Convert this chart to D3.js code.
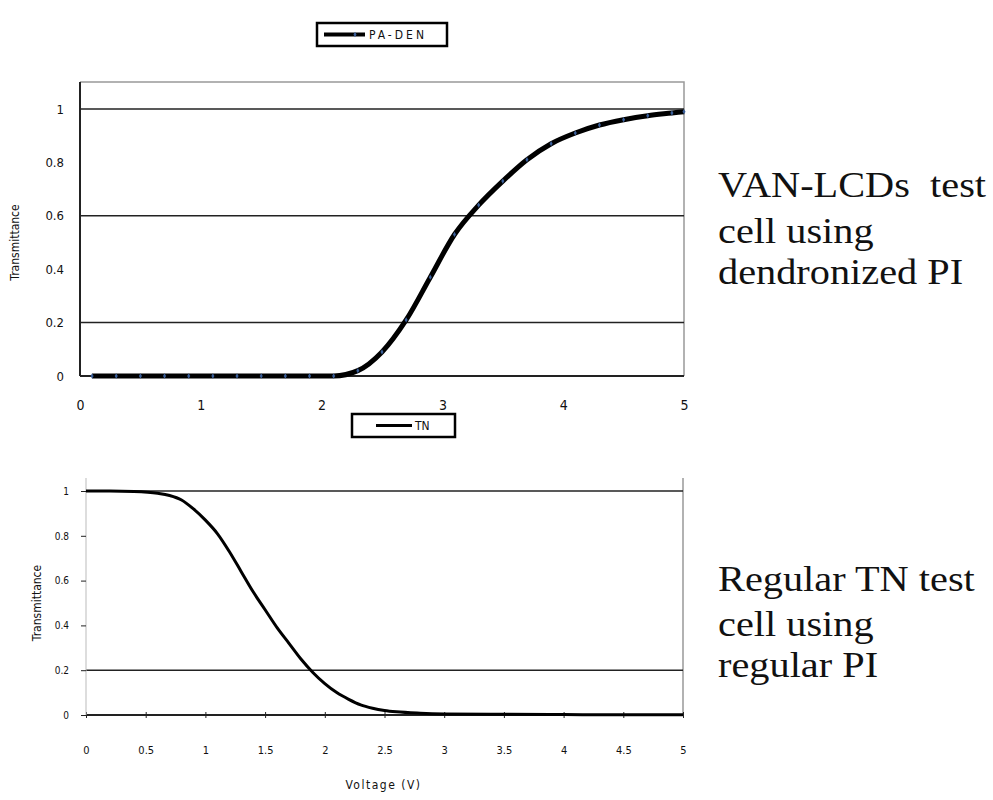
<!DOCTYPE html>
<html>
<head>
<meta charset="utf-8">
<script src="https://cdn.jsdelivr.net/npm/d3@7"></script>
<style>
  html, body { margin: 0; padding: 0; background: #fff; }
  svg { display: block; }
</style>
</head>
<body>
<svg id="chart" width="993" height="800"></svg>
<script>
// Top panel: VAN cell with dendronized PI
const denVoltage = [0.1, 0.3, 0.5, 0.7, 0.9, 1.1, 1.3, 1.5, 1.7, 1.9, 2.1, 2.3, 2.5, 2.7, 2.9, 3.1, 3.3, 3.5, 3.7, 3.9, 4.1, 4.3, 4.5, 4.7, 4.9, 5.0];
const denTrans   = [0, 0, 0, 0, 0, 0, 0, 0, 0, 0, 0, 0.02, 0.09, 0.21, 0.37, 0.53, 0.64, 0.73, 0.81, 0.87, 0.91, 0.94, 0.96, 0.975, 0.985, 0.99];
const topXTicks = [0, 1, 2, 3, 4, 5];
const topYTicks = [0, 0.2, 0.4, 0.6, 0.8, 1];
const topYTickLabels = ["0", "0.2", "0.4", "0.6", "0.8", "1"];
const topGrid = [0.2, 0.6, 1];

// Bottom panel: regular TN cell
const tnVoltage = [0, 0.2, 0.4, 0.6, 0.7, 0.8, 0.9, 1.0, 1.1, 1.2, 1.3, 1.4, 1.5, 1.6, 1.7, 1.8, 1.9, 2.0, 2.1, 2.2, 2.3, 2.4, 2.5, 2.6, 2.8, 3.0, 3.5, 4.0, 4.5, 5.0];
const tnTrans    = [1.0, 1.0, 0.998, 0.99, 0.98, 0.96, 0.92, 0.87, 0.81, 0.73, 0.64, 0.55, 0.47, 0.39, 0.32, 0.25, 0.19, 0.14, 0.10, 0.07, 0.045, 0.03, 0.02, 0.014, 0.008, 0.005, 0.003, 0.002, 0.001, 0.001];
const botXTicks = [0, 0.5, 1, 1.5, 2, 2.5, 3, 3.5, 4, 4.5, 5];
const botYTicks = [0, 0.2, 0.4, 0.6, 0.8, 1];
const botGrid = [0.2, 1];

const svg = d3.select("#chart");
const tickFont = "DejaVu Sans Condensed, DejaVu Sans, sans-serif";

// ---------- top panel ----------
const tx = d3.scaleLinear().domain([0, 5]).range([80, 684]);
const ty = d3.scaleLinear().domain([0, 1]).range([376, 109]);

// plot frame (top and right in grey)
svg.append("path")
  .attr("d", `M${tx(0)},82 H${tx(5)} V${ty(0)}`)
  .attr("fill", "none").attr("stroke", "#999").attr("stroke-width", 1.5);

svg.append("g").selectAll("line").data(topGrid).join("line")
  .attr("x1", tx(0)).attr("x2", tx(5))
  .attr("y1", d => ty(d)).attr("y2", d => ty(d))
  .attr("stroke", "#222").attr("stroke-width", 1.5);

const topXAxis = svg.append("g").attr("transform", `translate(0,${ty(0)})`)
  .call(d3.axisBottom(tx).tickValues(topXTicks).tickSize(0).tickPadding(24).tickFormat(d3.format("d")));
topXAxis.select(".domain").attr("stroke", "#222").attr("stroke-width", 2).attr("d", `M${tx(0)},0H${tx(5)}`);
topXAxis.selectAll("text").attr("font-size", 14).attr("font-family", tickFont).attr("fill", "#111");

const topYAxis = svg.append("g").attr("transform", `translate(${tx(0)},0)`)
  .call(d3.axisLeft(ty).tickValues(topYTicks).tickSize(0).tickPadding(16)
    .tickFormat((d, i) => topYTickLabels[i]));
topYAxis.select(".domain").attr("stroke", "#222").attr("stroke-width", 2).attr("d", `M0,82V${ty(0)}`);
topYAxis.selectAll("text").attr("font-size", 13).attr("font-family", tickFont).attr("fill", "#111");

svg.append("text")
  .attr("transform", `translate(19,${(ty(0) + ty(1)) / 2}) rotate(-90)`)
  .attr("text-anchor", "middle").attr("font-size", 12).attr("font-family", tickFont).attr("fill", "#111")
  .text("Transmittance");

const topLine = d3.line().x((d, i) => tx(denVoltage[i])).y(d => ty(d)).curve(d3.curveMonotoneX);
svg.append("path").datum(denTrans)
  .attr("d", topLine).attr("fill", "none").attr("stroke", "#000").attr("stroke-width", 5);
svg.append("g").selectAll("path").data(denTrans).join("path")
  .attr("transform", (d, i) => `translate(${tx(denVoltage[i])},${ty(d)})`)
  .attr("d", d3.symbol().type(d3.symbolDiamond).size(8))
  .attr("fill", "#3a5f9a");

// legend
const lg1 = svg.append("g").attr("transform", "translate(317,23)");
lg1.append("rect").attr("width", 130).attr("height", 23).attr("fill", "#fff").attr("stroke", "#000").attr("stroke-width", 2.5);
lg1.append("line").attr("x1", 7).attr("x2", 48).attr("y1", 11.5).attr("y2", 11.5).attr("stroke", "#000").attr("stroke-width", 4);
lg1.append("path").attr("transform", "translate(38,11.5)").attr("d", d3.symbol().type(d3.symbolDiamond).size(8)).attr("fill", "#3a5f9a");
lg1.append("text").attr("x", 52).attr("y", 16).attr("font-size", 12).attr("letter-spacing", 3)
  .attr("font-family", tickFont).attr("fill", "#111").text("PA-DEN");

// ---------- bottom panel ----------
const bx = d3.scaleLinear().domain([0, 5]).range([86, 683]);
const by = d3.scaleLinear().domain([0, 1]).range([715, 491]);

svg.append("line").attr("x1", bx(5)).attr("x2", bx(5)).attr("y1", 478).attr("y2", by(0))
  .attr("stroke", "#999").attr("stroke-width", 1.5);

svg.append("g").selectAll("line").data(botGrid).join("line")
  .attr("x1", bx(0)).attr("x2", bx(5))
  .attr("y1", d => by(d)).attr("y2", d => by(d))
  .attr("stroke", "#222").attr("stroke-width", 1.5);

const botXAxis = svg.append("g").attr("transform", `translate(0,${by(0)})`)
  .call(d3.axisBottom(bx).tickValues(botXTicks).tickSize(3).tickPadding(28).tickFormat(d3.format("")));
botXAxis.select(".domain").attr("stroke", "#222").attr("stroke-width", 2).attr("d", `M${bx(0)},0H${bx(5)}`);
botXAxis.selectAll(".tick line").attr("stroke", "#222").attr("y1", -3);
botXAxis.selectAll("text").attr("font-size", 11).attr("font-family", tickFont).attr("fill", "#111");

const botYAxis = svg.append("g").attr("transform", `translate(${bx(0)},0)`)
  .call(d3.axisLeft(by).tickValues(botYTicks).tickSize(5).tickPadding(12).tickFormat(d => d === 0 ? "0" : d === 1 ? "1" : d3.format(".1f")(d)));
botYAxis.select(".domain").attr("stroke", "#bbb").attr("stroke-width", 1).attr("d", `M0,478V${by(0)}`);
botYAxis.selectAll(".tick line").attr("stroke", "#222");
botYAxis.selectAll("text").attr("font-size", 10).attr("font-family", tickFont).attr("fill", "#111");

svg.append("text")
  .attr("transform", `translate(41,${(by(0) + by(1)) / 2}) rotate(-90)`)
  .attr("text-anchor", "middle").attr("font-size", 12).attr("font-family", tickFont).attr("fill", "#111")
  .text("Transmittance");

svg.append("text")
  .attr("x", (bx(0) + bx(5)) / 2 - 1).attr("y", 789)
  .attr("text-anchor", "middle").attr("font-size", 12).attr("letter-spacing", 1.5)
  .attr("font-family", tickFont).attr("fill", "#111")
  .text("Voltage (V)");

const botLine = d3.line().x((d, i) => bx(tnVoltage[i])).y(d => by(d)).curve(d3.curveMonotoneX);
svg.append("path").datum(tnTrans)
  .attr("d", botLine).attr("fill", "none").attr("stroke", "#000").attr("stroke-width", 3);

const lg2 = svg.append("g").attr("transform", "translate(352,414)");
lg2.append("rect").attr("width", 103).attr("height", 23).attr("fill", "#fff").attr("stroke", "#000").attr("stroke-width", 2.5);
lg2.append("line").attr("x1", 24).attr("x2", 60).attr("y1", 11.5).attr("y2", 11.5).attr("stroke", "#000").attr("stroke-width", 3);
lg2.append("text").attr("x", 63).attr("y", 16).attr("font-size", 12).attr("font-family", tickFont).attr("fill", "#111").text("TN");

// ---------- captions ----------
const serif = "Liberation Serif, Times New Roman, serif";
const cap1 = ["VAN-LCDs  test", "cell using", "dendronized PI"];
const cap2 = ["Regular TN test", "cell using", "regular PI"];
const cap1Y = [197, 243, 284];
const cap2Y = [591, 636, 677];
svg.append("g").attr("transform", "translate(718,0) scale(1.12,1)")
  .selectAll("text").data(cap1).join("text")
  .attr("x", 0).attr("y", (d, i) => cap1Y[i])
  .attr("font-size", 36).attr("font-family", serif).attr("fill", "#111")
  .style("white-space", "pre").text(d => d);
svg.append("g").attr("transform", "translate(718,0) scale(1.12,1)")
  .selectAll("text").data(cap2).join("text")
  .attr("x", 0).attr("y", (d, i) => cap2Y[i])
  .attr("font-size", 36).attr("font-family", serif).attr("fill", "#111")
  .text(d => d);
</script>
</body>
</html>
